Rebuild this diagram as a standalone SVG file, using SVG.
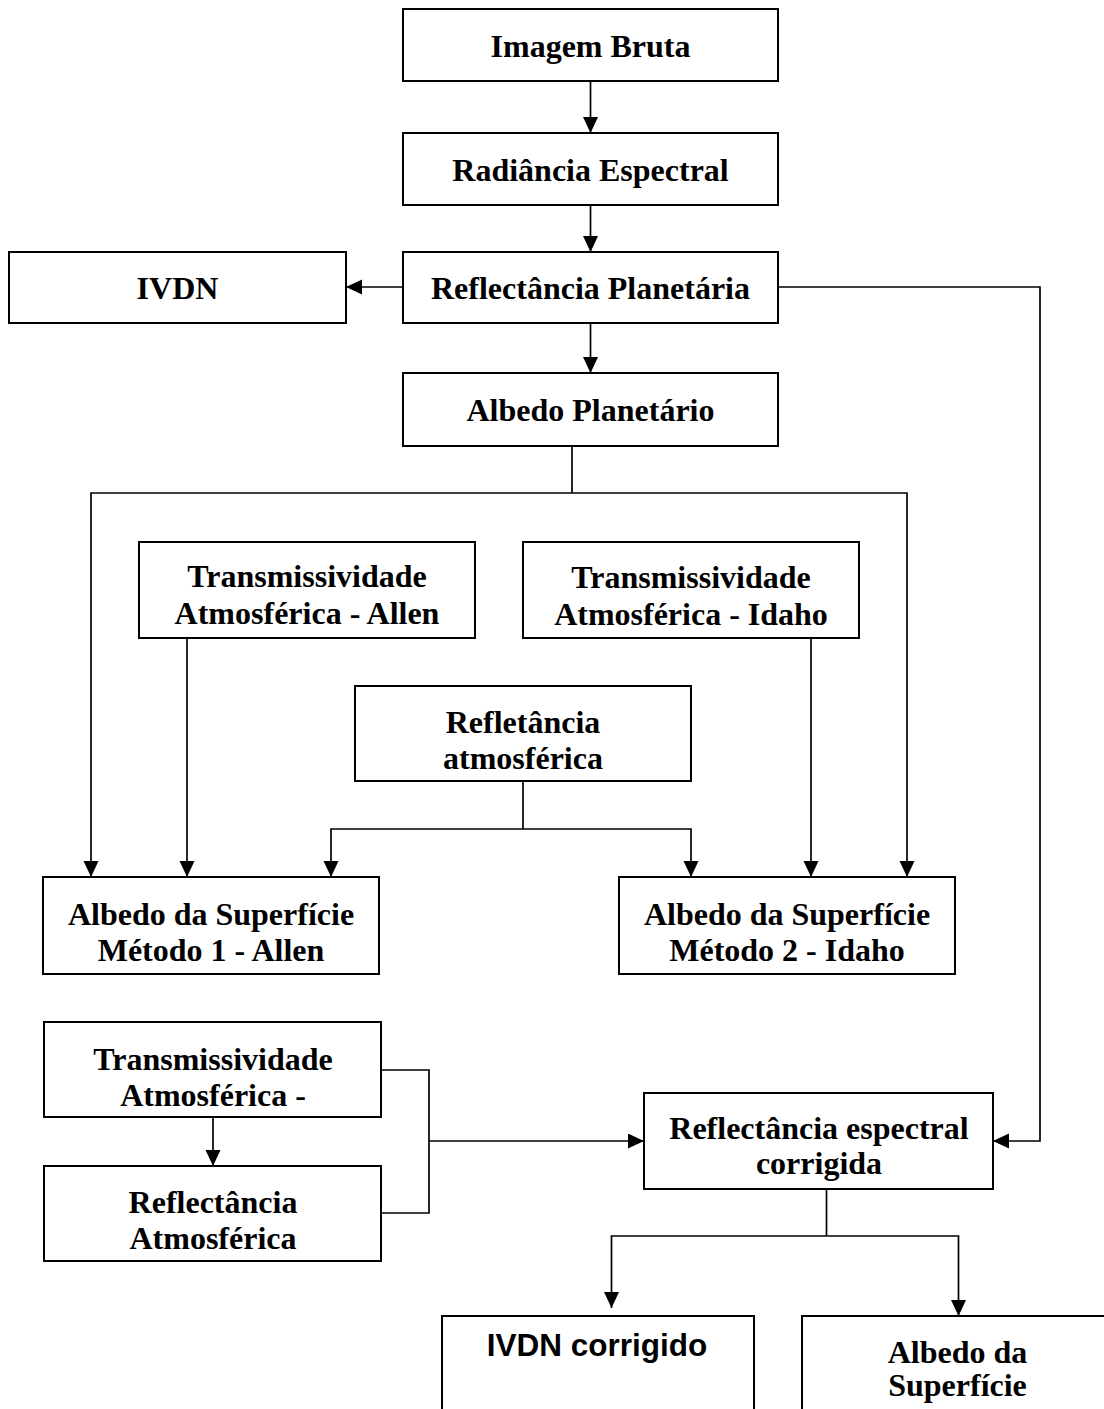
<svg xmlns="http://www.w3.org/2000/svg" width="1104" height="1409" viewBox="0 0 1104 1409">
<style>
.box{fill:#fff;stroke:#000;stroke-width:2}
.t{font-family:"Liberation Serif","Times New Roman",serif;font-weight:bold;font-size:32px;fill:#000;text-anchor:middle}
.s{font-family:"Liberation Sans",Arial,sans-serif;font-weight:bold;font-size:31.5px;fill:#000;text-anchor:middle}
.c{fill:none;stroke:#000;stroke-width:1.7}
.a{fill:none;stroke:#000;stroke-width:1.7;marker-end:url(#arr)}
</style>
<defs>
<marker id="arr" markerUnits="userSpaceOnUse" markerWidth="16" markerHeight="16" refX="16" refY="7.5" orient="auto">
<path d="M0,0 L16,7.5 L0,15 Z" fill="#000"/>
</marker>
</defs>
<rect width="1104" height="1409" fill="#fff"/>
<g id="connectors">
<path class="a" d="M590.5,81 V133"/>
<path class="a" d="M590.5,205 V252"/>
<path class="a" d="M403,287 H346"/>
<path class="a" d="M590.5,323 V373"/>
<path class="a" d="M778,287 H1040 V1141 H993"/>
<path class="c" d="M572,446 V493"/>
<path class="a" d="M572,493 H91 V877"/>
<path class="a" d="M572,493 H907 V877"/>
<path class="a" d="M187,638 V877"/>
<path class="a" d="M811,638 V877"/>
<path class="c" d="M523,781 V829"/>
<path class="a" d="M523,829 H331 V877"/>
<path class="a" d="M523,829 H691 V877"/>
<path class="a" d="M213,1117 V1166"/>
<path class="c" d="M381,1070 H429 V1213 H381"/>
<path class="a" d="M429,1141 H644"/>
<path class="c" d="M826.5,1189 V1236"/>
<path class="a" d="M826.5,1236 H611.5 V1308"/>
<path class="a" d="M826.5,1236 H958.5 V1316"/>
</g>
<g id="n-imagem-bruta">
<rect class="box" x="403" y="9" width="375" height="72"/>
<text class="t" x="590.5" y="57">Imagem Bruta</text>
</g>
<g id="n-radiancia">
<rect class="box" x="403" y="133" width="375" height="72"/>
<text class="t" x="590.5" y="181">Radiância Espectral</text>
</g>
<g id="n-reflectancia-planetaria">
<rect class="box" x="403" y="252" width="375" height="71"/>
<text class="t" x="590.5" y="299">Reflectância Planetária</text>
</g>
<g id="n-ivdn">
<rect class="box" x="9" y="252" width="337" height="71"/>
<text class="t" x="177.5" y="299">IVDN</text>
</g>
<g id="n-albedo-planetario">
<rect class="box" x="403" y="373" width="375" height="73"/>
<text class="t" x="590.5" y="421">Albedo Planetário</text>
</g>
<g id="n-trans-allen">
<rect class="box" x="139" y="542" width="336" height="96"/>
<text class="t" x="307" y="587">Transmissividade</text>
<text class="t" x="307" y="624">Atmosférica - Allen</text>
</g>
<g id="n-trans-idaho">
<rect class="box" x="523" y="542" width="336" height="96"/>
<text class="t" x="691" y="588">Transmissividade</text>
<text class="t" x="691" y="625">Atmosférica - Idaho</text>
</g>
<g id="n-refletancia-atm">
<rect class="box" x="355" y="686" width="336" height="95"/>
<text class="t" x="523" y="733">Refletância</text>
<text class="t" x="523" y="769">atmosférica</text>
</g>
<g id="n-albedo-allen">
<rect class="box" x="43" y="877" width="336" height="97"/>
<text class="t" x="211" y="925">Albedo da Superfície</text>
<text class="t" x="211" y="961">Método 1 - Allen</text>
</g>
<g id="n-albedo-idaho">
<rect class="box" x="619" y="877" width="336" height="97"/>
<text class="t" x="787" y="925">Albedo da Superfície</text>
<text class="t" x="787" y="961">Método 2 - Idaho</text>
</g>
<g id="n-trans-bottom">
<rect class="box" x="44" y="1022" width="337" height="95"/>
<text class="t" x="213" y="1070">Transmissividade</text>
<text class="t" x="213" y="1106">Atmosférica -</text>
</g>
<g id="n-reflectancia-atm-bottom">
<rect class="box" x="44" y="1166" width="337" height="95"/>
<text class="t" x="213" y="1213">Reflectância</text>
<text class="t" x="213" y="1249">Atmosférica</text>
</g>
<g id="n-reflectancia-espectral">
<rect class="box" x="644" y="1093" width="349" height="96"/>
<text class="t" x="819" y="1139">Reflectância espectral</text>
<text class="t" x="819" y="1174">corrigida</text>
</g>
<g id="n-ivdn-corrigido">
<rect class="box" x="442" y="1316" width="312" height="110"/>
<text class="s" x="597" y="1356">IVDN corrigido</text>
</g>
<g id="n-albedo-superficie">
<rect class="box" x="802" y="1316" width="320" height="110"/>
<text class="t" x="957.5" y="1363">Albedo da</text>
<text class="t" x="957.5" y="1396">Superfície</text>
</g>
</svg>
